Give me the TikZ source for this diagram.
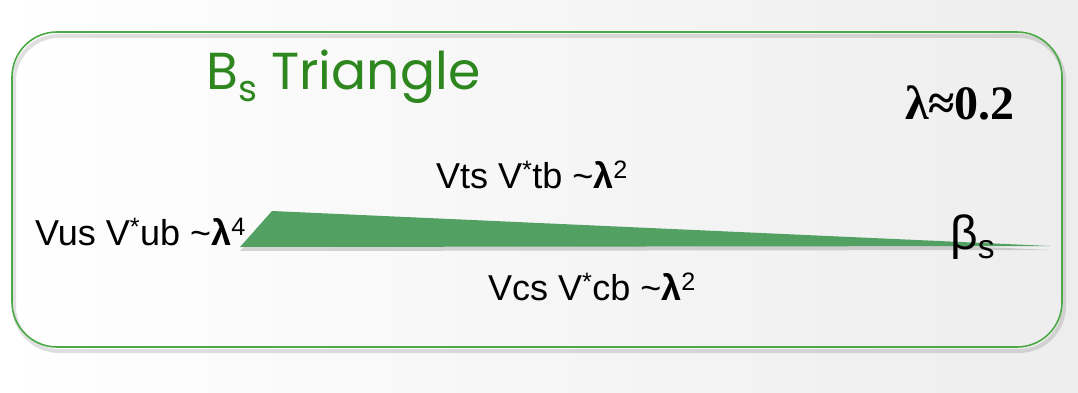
\documentclass[tikz,border=0pt]{standalone}
\usepackage{fontspec}
\setmainfont{Liberation Sans}
\newfontfamily\lamfont{Liberation Serif}
\newfontfamily\titlefont{Poppins}
\usetikzlibrary{positioning}
\definecolor{boxgreen}{RGB}{76,170,70}
\definecolor{trigreen}{RGB}{82,160,98}
\definecolor{titlegreen}{RGB}{45,135,30}

\begin{document}
\begin{tikzpicture}[x=1pt,y=-1pt,
  side/.style={font=\fontsize{36}{40}\selectfont, inner sep=0pt, anchor=base},
]
\useasboundingbox (0,0) rectangle (1078,393);
\shade[left color=white, right color=black!7] (0,0) rectangle (1078,393);

% frame
\draw[black, opacity=0.12, line width=4pt, rounded corners=45pt] (14,36) rectangle (1064,351);
\draw[boxgreen, line width=1.6pt, rounded corners=45pt] (12,32) rectangle (1062,347);

% the triangle
\coordinate (L) at (240,247);
\coordinate (T) at (272,211);
\coordinate (R) at (1050,246);
\fill[black, opacity=0.15] ([yshift=-4pt]L) -- ([yshift=-4pt]T) -- ([yshift=-4pt]R) -- cycle;
\fill[trigreen] (L) -- (T) -- (R) -- cycle;

% labels
\node[anchor=base west, inner sep=0pt, font=\fontsize{52}{56}\titlefont, text=titlegreen] (title) at (206,90)
  {B\textsubscript{s} Triangle};
\node[anchor=base, inner sep=0pt, font=\fontsize{48}{52}\lamfont\bfseries] (lam) at (960,120) {λ≈0.2};
\node[side, anchor=base east] (vub) at (246,245) {Vus V\textsuperscript{*}ub \textasciitilde{\bfseries λ}\textsuperscript{4}};
\node[side] (vtb) at (532,188) {Vts V\textsuperscript{*}tb \textasciitilde{\bfseries λ}\textsuperscript{2}};
\node[side] (vcb) at (592,300) {Vcs V\textsuperscript{*}cb \textasciitilde{\bfseries λ}\textsuperscript{2}};
\node[side, anchor=base west, font=\fontsize{48}{50}\selectfont] (beta) at (950,249) {β\textsubscript{s}};
\end{tikzpicture}
\end{document}
